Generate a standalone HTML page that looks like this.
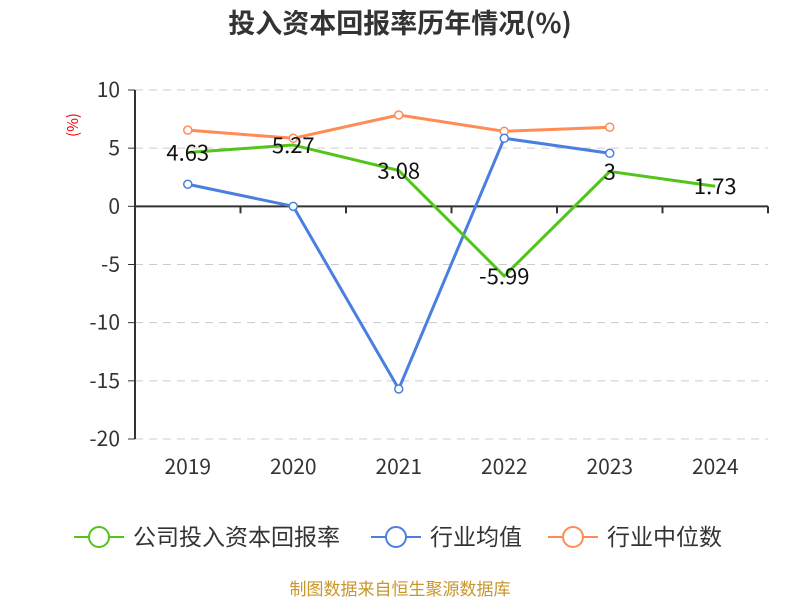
<!DOCTYPE html>
<html><head><meta charset="utf-8"><style>
body{margin:0;background:#fff;font-family:"Noto Sans CJK SC",sans-serif}
svg text{font-family:"Noto Sans CJK SC","Liberation Sans",sans-serif}
</style></head><body>
<svg id="c" width="800" height="600" xmlns="http://www.w3.org/2000/svg">
<text x="400" y="33" text-anchor="middle" font-size="27" font-weight="bold" fill="#333">投入资本回报率历年情况(%)</text>
<text x="78" y="125" font-size="15" fill="#e00" transform="rotate(-90 78 125)" text-anchor="middle">(%)</text>
<g id="grid"></g><g id="series"></g>
<g>
<g><line x1="74" y1="537" x2="124" y2="537" stroke="#52c41a" stroke-width="2"/><circle cx="99" cy="537" r="10" fill="#fff" stroke="#52c41a" stroke-width="2"/><text x="133" y="545" font-size="23" fill="#333">公司投入资本回报率</text></g>
<g><line x1="371" y1="537" x2="421" y2="537" stroke="#4a7fe0" stroke-width="2"/><circle cx="396" cy="537" r="10" fill="#fff" stroke="#4a7fe0" stroke-width="2"/><text x="430" y="545" font-size="23" fill="#333">行业均值</text></g>
<g><line x1="548" y1="537" x2="598" y2="537" stroke="#ff8c55" stroke-width="2"/><circle cx="573" cy="537" r="10" fill="#fff" stroke="#ff8c55" stroke-width="2"/><text x="607" y="545" font-size="23" fill="#333">行业中位数</text></g>
</g>
<text x="400" y="595" text-anchor="middle" font-size="17" fill="#c8962a">制图数据来自恒生聚源数据库</text>
</svg>
<script>
const categories=["2019","2020","2021","2022","2023","2024"];
const company=[4.63,5.27,3.08,-5.99,3,1.73];
const companyLabels=["4.63","5.27","3.08","-5.99","3","1.73"];
const industryAvg=[1.9,0,-15.7,5.85,4.56];
const industryMedian=[6.55,5.85,7.85,6.45,6.8];
const yTicks=[10,5,0,-5,-10,-15,-20];
const NS="http://www.w3.org/2000/svg";
const x0=135,x1=768,yTop=90,yBot=439,yMax=10,yMin=-20;
const bw=(x1-x0)/categories.length;
const X=i=>x0+bw*(i+0.5);
const Y=v=>yTop+(yMax-v)/(yMax-yMin)*(yBot-yTop);
function mk(tag,attrs,parent,txt){const e=document.createElementNS(NS,tag);for(const k in attrs)e.setAttribute(k,attrs[k]);if(txt!==undefined)e.textContent=txt;parent.appendChild(e);return e;}
const g=document.getElementById('grid'),s=document.getElementById('series');
yTicks.forEach(t=>{
 if(t!==0){const l=mk('line',{x1:x0,x2:x1,y1:Y(t),y2:Y(t),stroke:'#ccc','stroke-dasharray':'8,6'},g);
 
 }
 const tk=mk('line',{x1:x0-7,x2:x0,y1:Y(t),y2:Y(t),stroke:'#333'},g);
 
 
 const tx=mk('text',{x:x0-15,y:Y(t)+7,'text-anchor':'end','font-size':21,fill:'#333'},g,String(t));
 
 
});
const ya=mk('line',{x1:x0,x2:x0,y1:yTop,y2:yBot,stroke:'#333','stroke-width':2},g);


const xa=mk('line',{x1:x0,x2:x1,y1:Y(0),y2:Y(0),stroke:'#333','stroke-width':2},g);


for(let i=0;i<=categories.length;i++){const t=mk('line',{x1:x0+bw*i,x2:x0+bw*i,y1:Y(0),y2:Y(0)+7,stroke:'#333','stroke-width':2},g);
 
 }
categories.forEach((c,i)=>{const t=mk('text',{x:X(i),y:474,'text-anchor':'middle','font-size':21,fill:'#333'},g,c);
 
 });
function series(d,color,name,markers){
 const p=mk('polyline',{points:d.map((v,i)=>X(i)+','+Y(v)).join(' '),fill:'none',stroke:color,'stroke-width':3,'stroke-linejoin':'round'},s);
 
 
 if(markers)d.forEach((v,i)=>{const c=mk('circle',{cx:X(i),cy:Y(v),r:4,fill:'#fff',stroke:color,'stroke-width':1.5},s);
 
 });
}
series(industryMedian,'#ff8c55','industry-median',true);
series(industryAvg,'#4a7fe0','industry-avg',true);
series(company,'#52c41a','company',false);
company.forEach((v,i)=>{const t=mk('text',{x:X(i),y:Y(v)+8,'text-anchor':'middle','font-size':22,fill:'#111'},s,companyLabels[i]);
 
 });
</script>
</body></html>
